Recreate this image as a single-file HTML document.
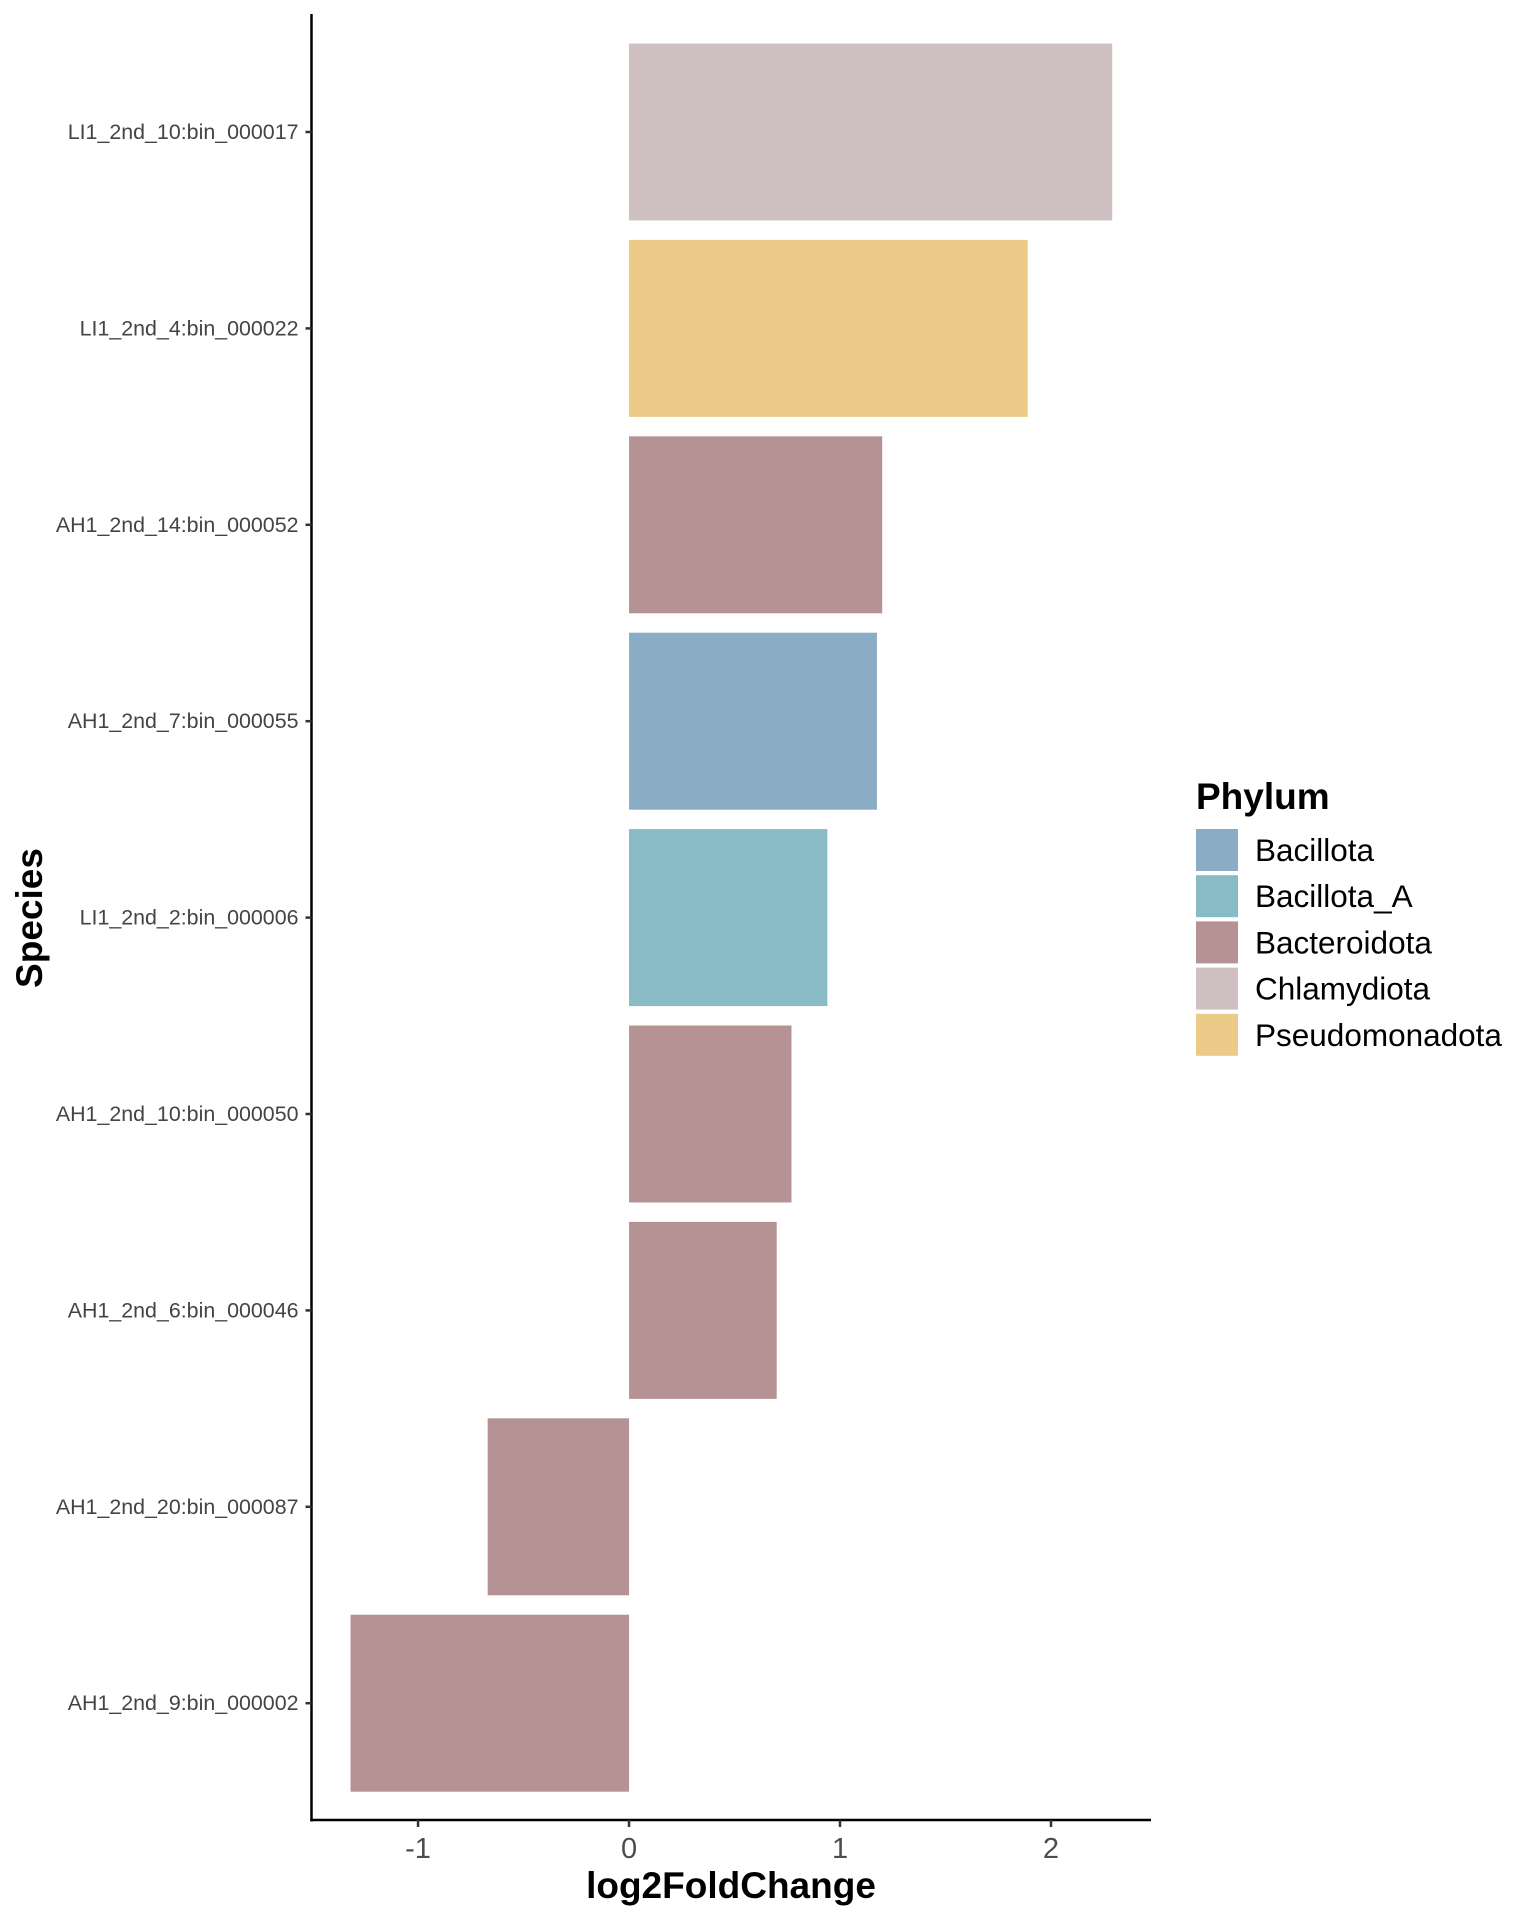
<!DOCTYPE html>
<html><head><meta charset="utf-8">
<style>html,body{margin:0;padding:0;background:#fff}svg{display:block}</style></head>
<body>
<svg id="chart" width="1536" height="1920" viewBox="0 0 1536 1920" xmlns="http://www.w3.org/2000/svg" font-family="Liberation Sans, Arial, sans-serif">
<g id="bars"></g>
<g id="yaxis"></g>
<g id="xaxis"></g>
<text x="731" y="1898" text-anchor="middle" font-size="37" font-weight="bold" fill="#000">log2FoldChange</text>
<text transform="translate(42,918) rotate(-90)" text-anchor="middle" font-size="37" font-weight="bold" fill="#000">Species</text>
<g id="legend">
<text x="1196" y="809" font-size="37" font-weight="bold" fill="#000">Phylum</text>
</g>
</svg>
<script>
const species = ["LI1_2nd_10:bin_000017","LI1_2nd_4:bin_000022","AH1_2nd_14:bin_000052","AH1_2nd_7:bin_000055","LI1_2nd_2:bin_000006","AH1_2nd_10:bin_000050","AH1_2nd_6:bin_000046","AH1_2nd_20:bin_000087","AH1_2nd_9:bin_000002"];
const values = [2.29, 1.89, 1.20, 1.175, 0.94, 0.77, 0.70, -0.67, -1.32];
const phyla = ["Chlamydiota","Pseudomonadota","Bacteroidota","Bacillota","Bacillota_A","Bacteroidota","Bacteroidota","Bacteroidota","Bacteroidota"];
const legendNames = ["Bacillota","Bacillota_A","Bacteroidota","Chlamydiota","Pseudomonadota"];
const legendColors = ["#8aacc4","#89bbc7","#b59395","#cfc1c2","#eccb88"];
const xTicks = [-1, 0, 1, 2];
const xTickLabels = ["-1","0","1","2"];

const NS = "http://www.w3.org/2000/svg";
const plotL = 311.5, plotR = 1151, plotT = 14, plotB = 1820;
const xMin = -1.505, xMax = 2.474;
const x = v => plotL + (v - xMin) / (xMax - xMin) * (plotR - plotL);
const rowTop = 33.8, rowPitch = 196.4;
const y = i => rowTop + rowPitch * (i + 0.5);
const barH = 177;
const colorOf = p => legendColors[legendNames.indexOf(p)];
function mk(tag, attrs, parent){const e=document.createElementNS(NS,tag);for(const k in attrs)e.setAttribute(k,attrs[k]);parent.appendChild(e);return e;}

const gb = document.getElementById('bars');
species.forEach((s,i)=>{
  const v = values[i];
  const r = mk('rect',{x:Math.min(x(0),x(v)),y:y(i)-barH/2,width:Math.abs(x(v)-x(0)),height:barH,fill:colorOf(phyla[i])},gb);
  
  
});
const gy = document.getElementById('yaxis');
const yl = mk('line',{x1:plotL,y1:plotT,x2:plotL,y2:plotB+1.5,stroke:'#000','stroke-width':2.5},gy);


species.forEach((s,i)=>{
  const t = mk('line',{x1:plotL-6,y1:y(i),x2:plotL,y2:y(i),stroke:'#333','stroke-width':2.5},gy);
  
  
  const tx = mk('text',{x:plotL-13,y:y(i)+7,'text-anchor':'end','font-size':21.4,fill:'#444'},gy);
  tx.textContent = s;
  
  
});
const gx = document.getElementById('xaxis');
const xl = mk('line',{x1:plotL-1.2,y1:plotB,x2:plotR,y2:plotB,stroke:'#000','stroke-width':2.5},gx);


xTicks.forEach((v,i)=>{
  const t = mk('line',{x1:x(v),y1:plotB,x2:x(v),y2:plotB+7,stroke:'#333','stroke-width':2.5},gx);
  
  
  const tx = mk('text',{x:x(v),y:plotB+38,'text-anchor':'middle','font-size':29,fill:'#4d4d4d'},gx);
  tx.textContent = xTickLabels[i];
  
  
});
const gl = document.getElementById('legend');
legendNames.forEach((n,i)=>{
  const cy = 850 + i*46.2;
  const r = mk('rect',{x:1196,y:cy-21,width:42,height:42,fill:legendColors[i]},gl);
  
  
  const t = mk('text',{x:1255,y:cy+11,'font-size':31.5,fill:'#000'},gl);
  t.textContent = n;
  
  
});
</script>
</body></html>
